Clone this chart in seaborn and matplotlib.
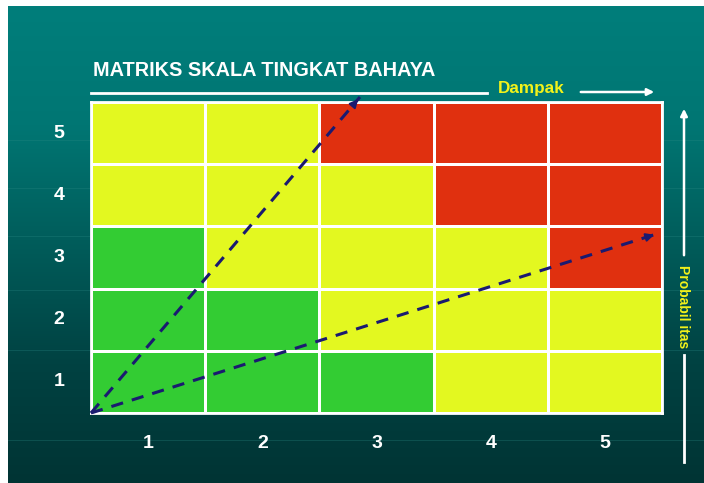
import numpy as np
import pandas as pd
import matplotlib
matplotlib.use("Agg")
import matplotlib.pyplot as plt
import seaborn as sns
from matplotlib.colors import ListedColormap, LinearSegmentedColormap

# data: risk level per cell (0 = low/green, 1 = medium/yellow, 2 = high/red)
dampak = [1, 2, 3, 4, 5]
probabilitas = [5, 4, 3, 2, 1]
level_p5 = [1, 1, 2, 2, 2]
level_p4 = [1, 1, 1, 2, 2]
level_p3 = [0, 1, 1, 1, 2]
level_p2 = [0, 0, 1, 1, 1]
level_p1 = [0, 0, 0, 1, 1]

# dashed trend arrows, in (dampak, probabilitas) fractions of the grid
arrow_steep = (0.471, 1.016)
arrow_flat = (0.991, 0.576)

df = pd.DataFrame([level_p5, level_p4, level_p3, level_p2, level_p1],
                  index=probabilitas, columns=dampak)

GREEN = "#33cc33"
YELLOW = "#e3f820"
RED = "#e0300f"
NAVY = "#1a1a70"
LABEL_YEL = "#f2f21a"

plt.rcParams["font.family"] = ["Liberation Sans", "DejaVu Sans"]

fig = plt.figure(figsize=(7.04, 4.83), dpi=100)

# background "slide" in pixel coords
bg = fig.add_axes([0, 0, 1, 1])
bg.set_xlim(0, 704)
bg.set_ylim(483, 0)
bg.axis("off")
grad = LinearSegmentedColormap.from_list(
    "teal", ["#007e7b", "#007673", "#005c5a", "#004242", "#003434"])
bg.imshow(np.linspace(0, 1, 256).reshape(-1, 1), cmap=grad, aspect="auto",
          extent=(8, 704, 483, 6), zorder=0)
for yy in [140, 188, 236, 290, 350, 440]:
    bg.plot([8, 704], [yy, yy], color="#2a8a86", lw=0.6, alpha=0.35, zorder=1)

# title and axis captions
bg.text(93, 70, "MATRIKS SKALA TINGKAT BAHAYA", color="white",
        fontsize=14.3, fontweight="bold", ha="left", va="center")
bg.plot([91, 487], [93, 93], color="white", lw=2)
bg.text(531, 88, "Dampak", color=LABEL_YEL, fontsize=12.3, fontweight="bold",
        ha="center", va="center")
bg.annotate("", xy=(657, 92), xytext=(578, 92),
            arrowprops=dict(arrowstyle="-|>", color="white", lw=1.8,
                            mutation_scale=10))
bg.plot([684, 684], [355, 462], color="white", lw=2)
bg.annotate("", xy=(684, 106), xytext=(684, 258),
            arrowprops=dict(arrowstyle="-|>", color="white", lw=1.8,
                            mutation_scale=10))
bg.text(683, 307, "Probabil itas", color=LABEL_YEL, fontsize=10,
        fontweight="bold", rotation=-90, ha="center", va="center")

# risk matrix
ax = fig.add_axes([91 / 704, 1 - 413 / 483, 571 / 704, 311 / 483])
sns.heatmap(df, cmap=ListedColormap([GREEN, YELLOW, RED]), vmin=-0.5, vmax=2.5,
            linewidths=1.0, linecolor="white", cbar=False, ax=ax)
for s in ax.spines.values():
    s.set_visible(True)
    s.set_color("white")
    s.set_linewidth(2)
ax.tick_params(length=0, colors="white", labelsize=14)
ax.tick_params(axis="x", pad=16)
ax.tick_params(axis="y", pad=19, labelrotation=0)
for lab in ax.get_xticklabels() + ax.get_yticklabels():
    lab.set_fontweight("bold")
ax.set_xlabel("")
ax.set_ylabel("")

for end in [arrow_steep, arrow_flat]:
    ax.plot([0, end[0]], [0, end[1]], transform=ax.transAxes, color=NAVY,
            lw=2.2, ls=(0, (4, 3)), clip_on=False, zorder=5)
    ax.annotate("", xy=end, xytext=(end[0] - 0.02 * end[0], end[1] - 0.02 * end[1]),
                xycoords="axes fraction", textcoords="axes fraction",
                arrowprops=dict(arrowstyle="-|>", color=NAVY, lw=1.5,
                                mutation_scale=12), annotation_clip=False)

fig.savefig("out.png", dpi=100)
